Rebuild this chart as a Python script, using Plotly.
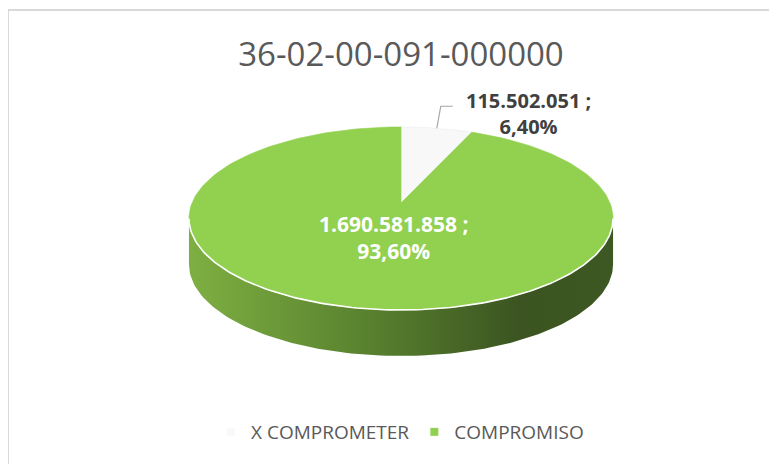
import numpy as np
import plotly.graph_objects as go

# Data
labels = ["X COMPROMETER", "COMPROMISO"]
values = [115502051, 1690581858]
colors = ["#f8f8f8", "#92d050"]
value_text = ["115.502.051", "1.690.581.858"]
pct_text = ["6,40%", "93,60%"]
title = "36-02-00-091-000000"

# page body has an 8px margin, so the figure is a bit smaller
# and the axis ranges are set up to match window pixels
OFF = 8
W, H = 777, 464
FW, FH = W - OFF, H - OFF

# pseudo-3D pie geometry (pixel space, y down)
X0, Y0 = 401, 203      # projected centre of the disc
K, M, E = 209, 88.9, 0.169  # horizontal radius, vertical radius, perspective
DEPTH = 46


def rim(a, dy=0.0):
    u, v = np.sin(a), np.cos(a)
    d = 1 + E * v
    return X0 + K * u / d, Y0 + dy - M * v / d


def px(x):
    return (x - OFF) / FW


def py(y):
    return (H - y) / FH


total = sum(values)
starts = np.cumsum([0] + values[:-1]) / total * 2 * np.pi
ends = np.cumsum(values) / total * 2 * np.pi

fig = go.Figure()

# side wall (visible front part only)
a_lo, a_hi = np.arccos(-E), 2 * np.pi - np.arccos(-E)
for s, e, c in zip(starts, ends, colors):
    lo, hi = max(s, a_lo), min(e, a_hi)
    if hi <= lo:
        continue
    t = np.linspace(lo, hi, 120)
    xt, yt = rim(t)
    xb, yb = rim(t[::-1], DEPTH)
    fig.add_trace(go.Scatter(
        x=np.r_[xt, xb], y=np.r_[yt, yb], mode="lines", fill="toself",
        line=dict(width=0),
        fillgradient=dict(type="horizontal", colorscale=[
            [0, "#7eaf42"], [0.45, "#567e2d"], [0.78, "#3b5421"], [1, "#3d5822"]]),
        hoverinfo="skip", showlegend=False))

# top face slices
for s, e, c in zip(starts, ends, colors):
    t = np.linspace(s, e, 200)
    xr, yr = rim(t)
    fig.add_trace(go.Scatter(
        x=np.r_[X0, xr, X0], y=np.r_[Y0, yr, Y0], mode="lines", fill="toself",
        fillcolor=c, line=dict(width=0.6, color="#ececec" if c == "#f8f8f8" else c),
        hoverinfo="skip", showlegend=False))

# white highlight on the front rim
t = np.linspace(a_lo, a_hi, 150)
xr, yr = rim(t)
fig.add_trace(go.Scatter(x=xr, y=yr, mode="lines", line=dict(color="white", width=1.6),
                         hoverinfo="skip", showlegend=False))

# leader line for the small slice
mid = (starts[0] + ends[0]) / 2
lx, ly = rim(mid)
fig.add_trace(go.Scatter(x=[lx, lx + 4, lx + 16], y=[ly, ly - 22, ly - 22], mode="lines",
                         line=dict(color="#a6a6a6", width=1.2),
                         hoverinfo="skip", showlegend=False))

# data labels
fig.add_annotation(x=lx + 92, y=ly - 15, text=f"<b>{value_text[0]} ;<br>{pct_text[0]}</b>",
                   showarrow=False, font=dict(family="Open Sans", size=20, color="#404040"))
fig.add_annotation(x=X0 - 8, y=Y0 + 34, text=f"<b>{value_text[1]} ;<br>{pct_text[1]}</b>",
                   showarrow=False, font=dict(family="Open Sans", size=21, color="white"))

# legend entries
for lab, c in zip(labels, colors):
    fig.add_trace(go.Scatter(x=[None], y=[None], mode="markers", name=lab,
                             marker=dict(symbol="square", size=8, color=c)))

# chart border
fig.add_shape(type="rect", x0=8, y0=10, x1=W + 5, y1=H + 5,
              line=dict(color="#d9d9d9", width=2), fillcolor="rgba(0,0,0,0)")

fig.update_layout(
    width=FW, height=FH,
    margin=dict(l=0, r=0, t=0, b=0),
    paper_bgcolor="white", plot_bgcolor="white",
    title=dict(text=title, x=px(401), xanchor="center", y=py(54), yanchor="middle",
               font=dict(family="Open Sans", size=33, color="#595959")),
    xaxis=dict(range=[OFF, W], visible=False, fixedrange=True),
    yaxis=dict(range=[H, OFF], visible=False, fixedrange=True),
    showlegend=True,
    legend=dict(orientation="h", x=px(400), xanchor="center", y=py(432), yanchor="middle",
                font=dict(family="Open Sans", size=19, color="#595959"),
                bgcolor="rgba(0,0,0,0)"),
)

fig.write_html("out.html")
